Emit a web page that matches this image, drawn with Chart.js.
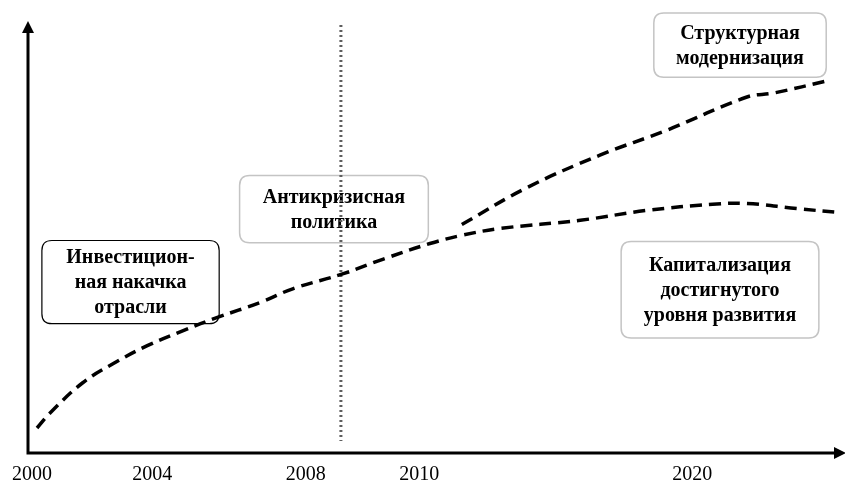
<!DOCTYPE html>
<html lang="ru">
<head>
    <meta charset="UTF-8">
    <title>Этапы развития отрасли</title>
    <script src="https://cdn.jsdelivr.net/npm/chart.js"></script>
    <style>
        body {
            margin: 0;
            background: white;
        }

        .chart-container {
            width: 845px;
            height: 482px;
        }
    </style>
</head>
<body>
    <div class="chart-container">
        <canvas id="stageChart"></canvas>
    </div>

<script>
    // horizontal position is in relative units 0..100, not in years
    let tickPos = [0.5, 15.2, 34.0, 47.9, 81.3];
    let tickLabels = ["2000", "2004", "2008", "2010", "2020"];

    // main trajectory (investment stage -> anti-crisis -> capitalisation)
    let mainX = [1.1, 2.7, 6.7, 10.4, 14.6, 19.0, 23.1, 28.4, 32.4, 38.6, 43.5, 49.2, 53.1, 57.8, 67.6, 75.8, 83.8, 88.0, 94.1, 99.4];
    let mainY = [5.8, 9.3, 16.3, 20.7, 24.9, 28.4, 31.4, 34.9, 38.1, 41.6, 45.0, 48.6, 50.5, 52.1, 54.0, 56.3, 57.7, 57.9, 56.7, 55.8];

    // structural modernisation branch
    let branchX = [53.1, 61.0, 70.0, 78.2, 88.0, 91.2, 98.2];
    let branchY = [53.0, 61.5, 69.1, 74.9, 82.6, 83.5, 86.5];

    // crisis marker (vertical dotted line)
    let crisisX = 38.3;

    let stageLabels = [
        ["Инвестицион-", "ная накачка", "отрасли"],
        ["Антикризисная", "политика"],
        ["Структурная", "модернизация"],
        ["Капитализация", "достигнутого", "уровня развития"]
    ];

    // boxes in chart units: [x0, x1, yTop, yBottom]
    let boxes = [
        { rect: [1.7, 23.4, 49.3, 30.0], border: "#000000" },
        { rect: [25.9, 49.0, 64.4, 48.8], border: "#c4c4c4" },
        { rect: [76.6, 97.7, 102.1, 87.2], border: "#c4c4c4" },
        { rect: [72.6, 96.8, 49.1, 26.7], border: "#c4c4c4" }
    ];

    function toPoints(xs, ys) {
        return xs.map((x, i) => ({ x: x, y: ys[i] }));
    }

    function roundRect(ctx, x, y, w, h, r) {
        ctx.beginPath();
        ctx.moveTo(x + r, y);
        ctx.lineTo(x + w - r, y);
        ctx.quadraticCurveTo(x + w, y, x + w, y + r);
        ctx.lineTo(x + w, y + h - r);
        ctx.quadraticCurveTo(x + w, y + h, x + w - r, y + h);
        ctx.lineTo(x + r, y + h);
        ctx.quadraticCurveTo(x, y + h, x, y + h - r);
        ctx.lineTo(x, y + r);
        ctx.quadraticCurveTo(x, y, x + r, y);
        ctx.closePath();
    }

    const boxPlugin = {
        id: "boxes",
        beforeDatasetsDraw(chart) {
            let ctx = chart.ctx;
            let xs = chart.scales.x, ys = chart.scales.y;
            ctx.save();
            boxes.forEach((b, i) => {
                let x0 = xs.getPixelForValue(b.rect[0]);
                let x1 = xs.getPixelForValue(b.rect[1]);
                let y0 = ys.getPixelForValue(b.rect[2]);
                let y1 = ys.getPixelForValue(b.rect[3]);
                roundRect(ctx, x0, y0, x1 - x0, y1 - y0, 10);
                ctx.fillStyle = "white";
                ctx.fill();
                ctx.lineWidth = b.border == "#000000" ? 1.2 : 1.5;
                ctx.strokeStyle = b.border;
                ctx.stroke();

                let lines = stageLabels[i];
                let lh = 25;
                let cx = (x0 + x1) / 2;
                let cy = (y0 + y1) / 2;
                ctx.fillStyle = "#000";
                ctx.font = "bold 20px 'Liberation Serif', 'Times New Roman', serif";
                ctx.textAlign = "center";
                ctx.textBaseline = "middle";
                lines.forEach((t, k) => {
                    ctx.fillText(t, cx, cy + 1 + (k - (lines.length - 1) / 2) * lh);
                });
            });

            // crisis line
            let cxp = xs.getPixelForValue(crisisX);
            ctx.beginPath();
            ctx.setLineDash([2, 3]);
            ctx.lineWidth = 3;
            ctx.strokeStyle = "#5e5e5e";
            ctx.moveTo(cxp, ys.getPixelForValue(99.3));
            ctx.lineTo(cxp, ys.getPixelForValue(2.8));
            ctx.stroke();
            ctx.restore();
        }
    };

    const axesPlugin = {
        id: "arrowAxes",
        afterDraw(chart) {
            let ctx = chart.ctx;
            let a = chart.chartArea;
            ctx.save();
            ctx.strokeStyle = "#000";
            ctx.fillStyle = "#000";
            ctx.lineWidth = 3;
            ctx.beginPath();
            ctx.moveTo(a.left, a.top + 6);
            ctx.lineTo(a.left, a.bottom);
            ctx.lineTo(a.right - 6, a.bottom);
            ctx.stroke();
            // top arrow
            ctx.beginPath();
            ctx.moveTo(a.left, a.top - 1);
            ctx.lineTo(a.left - 6, a.top + 11);
            ctx.lineTo(a.left + 6, a.top + 11);
            ctx.closePath();
            ctx.fill();
            // right arrow
            ctx.beginPath();
            ctx.moveTo(a.right + 1, a.bottom);
            ctx.lineTo(a.right - 11, a.bottom - 6);
            ctx.lineTo(a.right - 11, a.bottom + 6);
            ctx.closePath();
            ctx.fill();
            ctx.restore();
        }
    };

    let ctx = document.getElementById("stageChart").getContext("2d");
    let stageChart = new Chart(ctx, {
        type: "line",
        data: {
            datasets: [
                {
                    label: "Основная траектория",
                    data: toPoints(mainX, mainY),
                    borderColor: "#000",
                    borderWidth: 3.5,
                    borderDash: [12, 7],
                    pointRadius: 0,
                    tension: 0.4,
                    fill: false
                },
                {
                    label: "Структурная модернизация",
                    data: toPoints(branchX, branchY),
                    borderColor: "#000",
                    borderWidth: 3.5,
                    borderDash: [12, 7],
                    pointRadius: 0,
                    tension: 0.4,
                    fill: false
                }
            ]
        },
        options: {
            responsive: true,
            maintainAspectRatio: false,
            animation: false,
            layout: {
                padding: { left: 28, right: 0, top: 22, bottom: -15 }
            },
            plugins: {
                legend: { display: false },
                tooltip: { enabled: false }
            },
            scales: {
                x: {
                    type: "linear",
                    min: 0,
                    max: 100,
                    border: { display: false },
                    grid: { display: false, drawTicks: false },
                    afterBuildTicks: axis => {
                        axis.ticks = tickPos.map(v => ({ value: v }));
                    },
                    ticks: {
                        autoSkip: false,
                        maxRotation: 0,
                        padding: 10,
                        color: "#000",
                        font: { family: "'Liberation Serif', 'Times New Roman', serif", size: 20 },
                        callback: (val, idx) => tickLabels[idx]
                    }
                },
                y: {
                    type: "linear",
                    min: 0,
                    max: 100,
                    display: false
                }
            }
        },
        plugins: [boxPlugin, axesPlugin]
    });
</script>
</body>
</html>
